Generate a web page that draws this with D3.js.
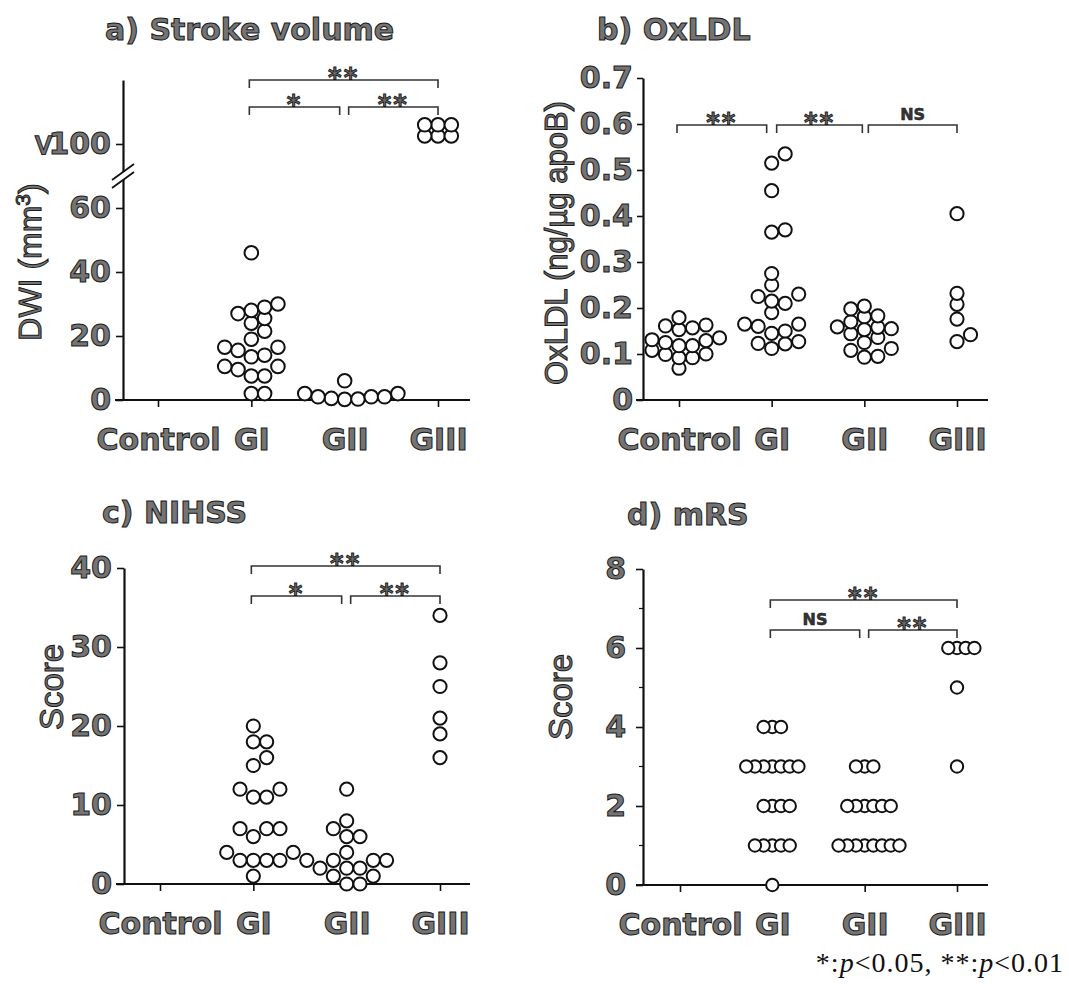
<!DOCTYPE html>
<html>
<head>
<meta charset="utf-8">
<script src="https://cdnjs.cloudflare.com/ajax/libs/d3/7.8.5/d3.min.js"></script>
<style>
  body { margin: 0; background: #fff; }
  svg { display: block; }
</style>
</head>
<body>
<script>
// categories
var groups = ["Control", "GI", "GII", "GIII"];

// a) stroke volume (DWI, mm3) - values above 100 sit in the broken part of the axis
var dwiGI = [46, 30, 29, 28, 27, 25.5, 24, 21.5, 19, 16.5, 16.5, 15.5, 14, 13.5, 10.5, 10.5, 9.5, 7.5, 7.5, 2, 2];
var dwiGII = [6, 2, 2, 1, 1, 1, 0.5, 0.3, 0.2];
var dwiGIII = [105, 105, 105, 112, 112, 112];
var dwiTicks = [0, 20, 40, 60, 100];

// b) OxLDL (ng/ug apoB)
var oxControl = [0.135, 0.118, 0.10, 0.157, 0.125, 0.092, 0.179, 0.153, 0.118, 0.099, 0.069, 0.161, 0.129, 0.092, 0.163, 0.131, 0.108];
var oxGI = [0.535, 0.515, 0.455, 0.37, 0.365, 0.275, 0.25, 0.23, 0.215, 0.21, 0.225, 0.19, 0.165, 0.165, 0.16, 0.15, 0.145, 0.127, 0.123, 0.122, 0.112];
var oxGII = [0.158, 0.183, 0.153, 0.125, 0.093, 0.198, 0.181, 0.155, 0.136, 0.112, 0.095, 0.204, 0.159, 0.144, 0.108, 0.17];
var oxGIII = [0.405, 0.232, 0.208, 0.176, 0.142, 0.127];
var oxTicks = [0, 0.1, 0.2, 0.3, 0.4, 0.5, 0.6, 0.7];

// c) NIHSS score
var nihssGI = [20, 18, 18, 16, 15, 12, 12, 11, 11, 7, 7, 7, 6, 4, 4, 3, 3, 3, 3, 1];
var nihssGII = [12, 8, 7, 6, 6, 4, 3, 3, 3, 3, 2, 2, 2, 1, 1, 0, 0];
var nihssGIII = [34, 28, 25, 21, 19, 16];
var nihssTicks = [0, 10, 20, 30, 40];

// d) mRS score
var mrsGI = [4, 4, 4, 3, 3, 3, 3, 3, 3, 3, 2, 2, 2, 2, 1, 1, 1, 1, 1, 0];
var mrsGII = [3, 3, 3, 2, 2, 2, 2, 2, 2, 1, 1, 1, 1, 1, 1, 1, 1];
var mrsGIII = [6, 6, 6, 6, 5, 3];
var mrsTicks = [0, 2, 4, 6, 8];
var mrsMinor = [1, 3, 5, 7];

// significance brackets: [from, to, label, level]
var sigA = [["GI", "GIII", "**", 0], ["GI", "GII", "*", 1], ["GII", "GIII", "**", 1]];
var sigB = [["Control", "GI", "**", 0], ["GI", "GII", "**", 0], ["GII", "GIII", "NS", 0]];
var sigC = [["GI", "GIII", "**", 0], ["GI", "GII", "*", 1], ["GII", "GIII", "**", 1]];
var sigD = [["GI", "GIII", "**", 0], ["GI", "GII", "NS", 1], ["GII", "GIII", "**", 1]];

var W = 1069, H = 987;
var BOLD = "'DejaVu Sans', Verdana, sans-serif";
var FONT = "'Liberation Sans', Arial, Helvetica, sans-serif";
var svg = d3.select("body").append("svg").attr("width", W).attr("height", H);
svg.append("rect").attr("width", W).attr("height", H).attr("fill", "#fff");

function grayText(sel, size, weight) {
    return sel.attr("font-family", weight == "bold" ? BOLD : FONT).attr("font-size", size).attr("font-weight", weight)
        .attr("fill", "#747474").attr("stroke", "#1a1a1a").attr("stroke-width", 1);
}

// simple swarm: put each point at the nearest free column slot
function swarm(vals, y, step, minD) {
    var pts = vals.map(function(v){ return {v: v, y: y(v)}; })
        .sort(function(a, b){ return d3.ascending(a.v, b.v); });
    var done = [];
    pts.forEach(function(p){
        for (var k = 0; k < 60; k++) {
            var off = k == 0 ? 0 : (k % 2 ? 1 : -1) * Math.ceil(k / 2) * step;
            var ok = done.every(function(q){ return Math.hypot(q.dx - off, q.y - p.y) >= minD; });
            if (ok) { p.dx = off; break; }
        }
        done.push(p);
    });
    return done;
}

function panel(o) {
    var g = svg.append("g");
    var x = d3.scalePoint().domain(groups).range(o.xr);
    var y = o.y;

    // title
    grayText(g.append("text").attr("x", o.title[1]).attr("y", o.title[2]).text(o.title[0]), 30, "bold");

    // y axis
    var ay = g.append("g").attr("transform", "translate(" + o.ax + ",0)")
        .call(d3.axisLeft(y).tickValues(o.ticks).tickSize(o.tick).tickPadding(o.pad).tickSizeOuter(0).tickFormat(o.fmt));
    ay.select(".domain").attr("stroke", "#111").attr("stroke-width", 2.2);
    ay.selectAll(".tick line").attr("stroke", "#111").attr("stroke-width", 1.6);
    ay.selectAll(".tick text").each(function(){ grayText(d3.select(this), 30, "bold"); });
    if (o.minor) {
        g.selectAll(".minor").data(o.minor).enter().append("line")
            .attr("x1", o.ax - 4).attr("x2", o.ax).attr("y1", y).attr("y2", y)
            .attr("stroke", "#111").attr("stroke-width", 1.2);
    }

    // x axis
    var base = y(0);
    g.append("line").attr("x1", o.xl[0]).attr("x2", o.xl[1]).attr("y1", base).attr("y2", base)
        .attr("stroke", "#111").attr("stroke-width", 2.2);
    var axx = g.append("g").attr("transform", "translate(0," + base + ")")
        .call(d3.axisBottom(x).tickSize(7).tickSizeOuter(0));
    axx.select(".domain").remove();
    axx.selectAll(".tick line").attr("stroke", "#111").attr("stroke-width", 1.6);
    axx.selectAll(".tick text").attr("y", 29).each(function(){ grayText(d3.select(this), 30, "bold"); });

    // y label
    var yl = g.append("text").attr("text-anchor", "middle")
        .attr("transform", "translate(" + o.ylab[1] + "," + o.ylab[2] + ") rotate(-90)");
    grayText(yl, o.ylab[3], "normal");
    yl.append("tspan").text(o.ylab[0]);
    if (o.sup) {
        yl.append("tspan").attr("baseline-shift", "super").attr("font-size", 21).text(o.sup);
        yl.append("tspan").text(")");
    }

    // points
    o.series.forEach(function(s){
        var pts = swarm(s[1], y, o.step, o.minD);
        g.selectAll(null).data(pts).enter().append("circle")
            .attr("cx", function(d){ return x(s[0]) + d.dx; })
            .attr("cy", function(d){ return d.y; })
            .attr("r", o.r).attr("fill", "#fff").attr("stroke", "#111").attr("stroke-width", 2);
    });

    // brackets
    o.sig.forEach(function(b){
        var x1 = x(b[0]) + (b[0] == "GII" ? 4 : -2);
        var x2 = x(b[1]) + (b[1] == "GII" ? -5 : 0);
        if (b[0] == "GI" && b[1] == "GII" && o.sig[0][1] != "GIII") { x1 = x(b[0]) + 5; x2 = x(b[1]) - 2; }
        if (b[0] == "Control") { x2 = x(b[1]) - 5; }
        var yy = o.sigY[b[3]];
        g.append("path").attr("d", "M" + x1 + "," + (yy + 8) + "V" + yy + "H" + x2 + "V" + (yy + 8))
            .attr("fill", "none").attr("stroke", "#333").attr("stroke-width", 1.6);
        var t = g.append("text").attr("x", (x1 + x2) / 2).attr("text-anchor", "middle");
        if (b[2] == "NS") {
            grayText(t.attr("y", yy - 5), 16, "bold").attr("stroke-width", 0.5).attr("fill", "#333").text("NS");
        } else {
            grayText(t.attr("y", yy + 7), 26, "bold").attr("letter-spacing", 2).attr("fill", "#6a6a6a").attr("stroke-width", 0.9).text(b[2]);
        }
    });
    return {g: g, x: x, y: y};
}

// a) stroke volume
var yA = d3.scaleLinear().domain([0, 60, 100, 140]).range([400, 208, 144, 80]);
var pa = panel({
    y: yA, xr: [158, 438], xl: [115, 470], ax: 123, ticks: dwiTicks, tick: 7, pad: 5,
    fmt: function(d){ return d; },
    title: ["a) Stroke volume", 105, 40], ylab: ["DWI (mm", 41, 262, 32], sup: "3",
    series: [["GI", dwiGI], ["GII", dwiGII], ["GIII", dwiGIII]],
    r: 6.8, step: 13.3, minD: 10, sig: sigA, sigY: [80, 107]
});
// ">" before 100, turned like the reference
grayText(pa.g.append("text").attr("text-anchor", "middle").attr("dominant-baseline", "central")
    .attr("transform", "translate(44," + (yA(100) + 1) + ") rotate(90)").text(">"), 30, "bold");
// axis break
var yb = (yA(60) + yA(100)) / 2;
pa.g.append("line").attr("x1", 123).attr("x2", 123).attr("y1", yb - 4).attr("y2", yb + 4).attr("stroke", "#fff").attr("stroke-width", 4);
[-4, 4].forEach(function(k){
    pa.g.append("line").attr("x1", 112).attr("x2", 134).attr("y1", yb + k + 8).attr("y2", yb + k - 8)
        .attr("stroke", "#111").attr("stroke-width", 1.8);
});

// b) OxLDL
panel({
    y: d3.scaleLinear().domain([0, 0.7]).range([400, 78]), xr: [679, 957], xl: [636, 988], ax: 643,
    ticks: oxTicks, tick: 6, pad: 4, fmt: function(d){ return d == 0 ? "0" : d.toFixed(1); },
    title: ["b) OxLDL", 597, 40], ylab: ["OxLDL (ng/\u00b5g apoB)", 567, 243, 31],
    series: [["Control", oxControl], ["GI", oxGI], ["GII", oxGII], ["GIII", oxGIII]],
    r: 6.6, step: 13.5, minD: 10, sig: sigB, sigY: [125, 125]
});

// c) NIHSS
panel({
    y: d3.scaleLinear().domain([0, 40]).range([884, 568]), xr: [160, 440], xl: [116, 470], ax: 124,
    ticks: nihssTicks, tick: 7, pad: 5, fmt: d3.format("d"),
    title: ["c) NIHSS", 102, 523], ylab: ["Score", 63, 687, 33],
    series: [["GI", nihssGI], ["GII", nihssGII], ["GIII", nihssGIII]],
    r: 6.6, step: 13.3, minD: 10, sig: sigC, sigY: [566, 596]
});

// d) mRS
panel({
    y: d3.scaleLinear().domain([0, 8]).range([885, 569]), xr: [680, 957], xl: [636, 988], ax: 643,
    ticks: mrsTicks, tick: 7, pad: 10, fmt: d3.format("d"), minor: mrsMinor,
    title: ["d) mRS", 627, 525], ylab: ["Score", 572, 697, 33],
    series: [["GI", mrsGI], ["GII", mrsGII], ["GIII", mrsGIII]],
    r: 6.2, step: 8.7, minD: 8.6, sig: sigD, sigY: [600, 630]
});

// footnote
var fn = svg.append("text").attr("x", 1064).attr("y", 972).attr("text-anchor", "end")
    .attr("font-family", "'Liberation Serif', 'Times New Roman', serif").attr("font-size", 28)
    .attr("letter-spacing", 1).attr("fill", "#111");
fn.append("tspan").text("*:");
fn.append("tspan").attr("font-style", "italic").text("p");
fn.append("tspan").text("<0.05, **:");
fn.append("tspan").attr("font-style", "italic").text("p");
fn.append("tspan").text("<0.01");
</script>
</body>
</html>
